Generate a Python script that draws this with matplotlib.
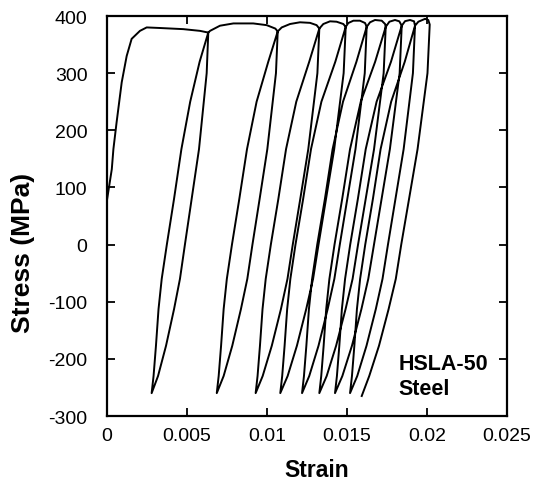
import matplotlib
matplotlib.use("Agg")
import matplotlib.pyplot as plt

plt.rcParams['font.family'] = ['Liberation Sans', 'DejaVu Sans']

# ---- data ----
# initial monotonic loading (strain, stress)
init_strain = [0.0, 0.0003, 0.0004, 0.0006, 0.00092, 0.00123, 0.00154, 0.00206, 0.00248, 0.00331, 0.00477, 0.00581]
init_stress = [78, 132, 167, 214, 284, 330, 360, 374, 380, 379, 377, 374]

# tensile reversal points (peaks) and compressive reversal points (bottoms)
peak_strain = [0.00633, 0.01067, 0.01327, 0.01492, 0.01623, 0.01742, 0.01842, 0.01925, 0.02017]
peak_stress = [371, 373, 378, 381, 381, 381, 383, 383, 385]
bottom_strain = [0.00279, 0.00686, 0.00929, 0.01083, 0.01219, 0.01327, 0.01425, 0.01519, 0.01592]
bottom_stress = [-260, -260, -260, -260, -260, -260, -260, -260, -265]

# unloading branches (peak -> bottom), strain at these stress levels
unload_levels = [300, 167, 80, 0, -60, -113, -177, -230]
unload_strain = [
    [0.00623, 0.00575, 0.00529, 0.00487, 0.00456, 0.00419, 0.00369, 0.00319],
    [0.01056, 0.01002, 0.00954, 0.00909, 0.00877, 0.00837, 0.00783, 0.00729],
    [0.01315, 0.01258, 0.01208, 0.01161, 0.01128, 0.01087, 0.01030, 0.00973],
    [0.01479, 0.01420, 0.01369, 0.01322, 0.01288, 0.01245, 0.01187, 0.01129],
    [0.01611, 0.01553, 0.01502, 0.01455, 0.01421, 0.01379, 0.01322, 0.01264],
    [0.01729, 0.01669, 0.01617, 0.01569, 0.01535, 0.01491, 0.01432, 0.01373],
    [0.01829, 0.01768, 0.01716, 0.01668, 0.01633, 0.01590, 0.01531, 0.01471],
    [0.01912, 0.01854, 0.01803, 0.01756, 0.01722, 0.01680, 0.01622, 0.01564],
    [0.02003, 0.01941, 0.01888, 0.01839, 0.01805, 0.01760, 0.01700, 0.01639],
]

# reloading branches (bottom -> peak), strain at these stress levels
reload_levels = [-230, -177, -113, -60, 0, 80, 167, 250, 320]
reload_strain = [
    [0.00291, 0.00306, 0.00322, 0.00342, 0.00374, 0.00419, 0.00465, 0.00520, 0.00579],
    [0.00698, 0.00713, 0.00729, 0.00749, 0.00781, 0.00827, 0.00875, 0.00935, 0.01008],
    [0.00941, 0.00956, 0.00972, 0.00992, 0.01024, 0.01071, 0.01119, 0.01183, 0.01264],
    [0.01095, 0.01110, 0.01126, 0.01146, 0.01178, 0.01226, 0.01275, 0.01340, 0.01427],
    [0.01231, 0.01246, 0.01262, 0.01282, 0.01314, 0.01362, 0.01410, 0.01475, 0.01559],
    [0.01339, 0.01354, 0.01370, 0.01390, 0.01422, 0.01470, 0.01519, 0.01586, 0.01676],
    [0.01437, 0.01452, 0.01468, 0.01488, 0.01520, 0.01568, 0.01617, 0.01685, 0.01775],
    [0.01531, 0.01546, 0.01562, 0.01582, 0.01614, 0.01662, 0.01710, 0.01776, 0.01861],
]

# plastic humps between successive peaks
hump_strain = [
    [0.00644, 0.00706, 0.00790, 0.00914, 0.00998, 0.01052],
    [0.01092, 0.01144, 0.01206, 0.01269, 0.01310],
    [0.01352, 0.01394, 0.01435, 0.01477],
    [0.01508, 0.01540, 0.01581, 0.01613],
    [0.01644, 0.01675, 0.01717, 0.01738],
    [0.01765, 0.01800, 0.01827],
    [0.01863, 0.01894, 0.01919],
    [0.01946, 0.01988, 0.02008],
]
hump_stress = [
    [374, 383, 387, 387, 384, 378],
    [380, 386, 389, 388, 384],
    [386, 390.7, 390, 386],
    [387.7, 391.8, 391.8, 387.7],
    [389, 393, 391.8, 386],
    [390, 393, 390.7],
    [391, 393, 390.7],
    [390, 395, 393],
]

x_ticks = [0, 0.005, 0.01, 0.015, 0.02, 0.025]
x_tick_labels = ['0', '0.005', '0.01', '0.015', '0.02', '0.025']
y_ticks = [-300, -200, -100, 0, 100, 200, 300, 400]
y_tick_labels = ['-300', '-200', '-100', '0', '100', '200', '300', '400']

# ---- assemble the continuous strain history ----
xs = list(init_strain) + [peak_strain[0]]
ys = list(init_stress) + [peak_stress[0]]
n = len(peak_strain)
for i in range(n):
    xs += unload_strain[i] + [bottom_strain[i]]
    ys += unload_levels + [bottom_stress[i]]
    if i < n - 1:
        xs += reload_strain[i] + [peak_strain[i]]
        ys += reload_levels + [peak_stress[i]]
        xs += hump_strain[i] + [peak_strain[i + 1]]
        ys += hump_stress[i] + [peak_stress[i + 1]]

fig = plt.figure(figsize=(5.33, 4.85), dpi=100)
ax = fig.add_axes([107 / 533, 1 - 417 / 485, 400 / 533, 400 / 485])
ax.plot(xs, ys, color='black', lw=1.4, solid_joinstyle='round')

ax.set_xlim(0, 0.025)
ax.set_ylim(-300, 400)
ax.set_xticks(x_ticks)
ax.set_xticklabels(x_tick_labels)
ax.set_yticks(y_ticks)
ax.set_yticklabels(y_tick_labels)

for s in ax.spines.values():
    s.set_linewidth(1.6)
ax.tick_params(direction='in', top=True, right=True, length=6, width=1.3, labelsize=14)
ax.tick_params(axis='x', pad=8)
ax.tick_params(axis='y', pad=14)

ax.set_xlabel('Strain', fontsize=16.5, fontweight='bold')
ax.xaxis.set_label_coords(0.525, -0.105)
ax.set_ylabel('Stress (MPa)', fontsize=19, fontweight='bold')
ax.yaxis.set_label_coords(-0.18, 0.41)

ax.text(0.0182, -218, 'HSLA-50', fontsize=15.5, fontweight='bold', ha='left', va='baseline')
ax.text(0.0182, -261.5, 'Steel', fontsize=15.5, fontweight='bold', ha='left', va='baseline')

fig.savefig('out.png', dpi=100)
